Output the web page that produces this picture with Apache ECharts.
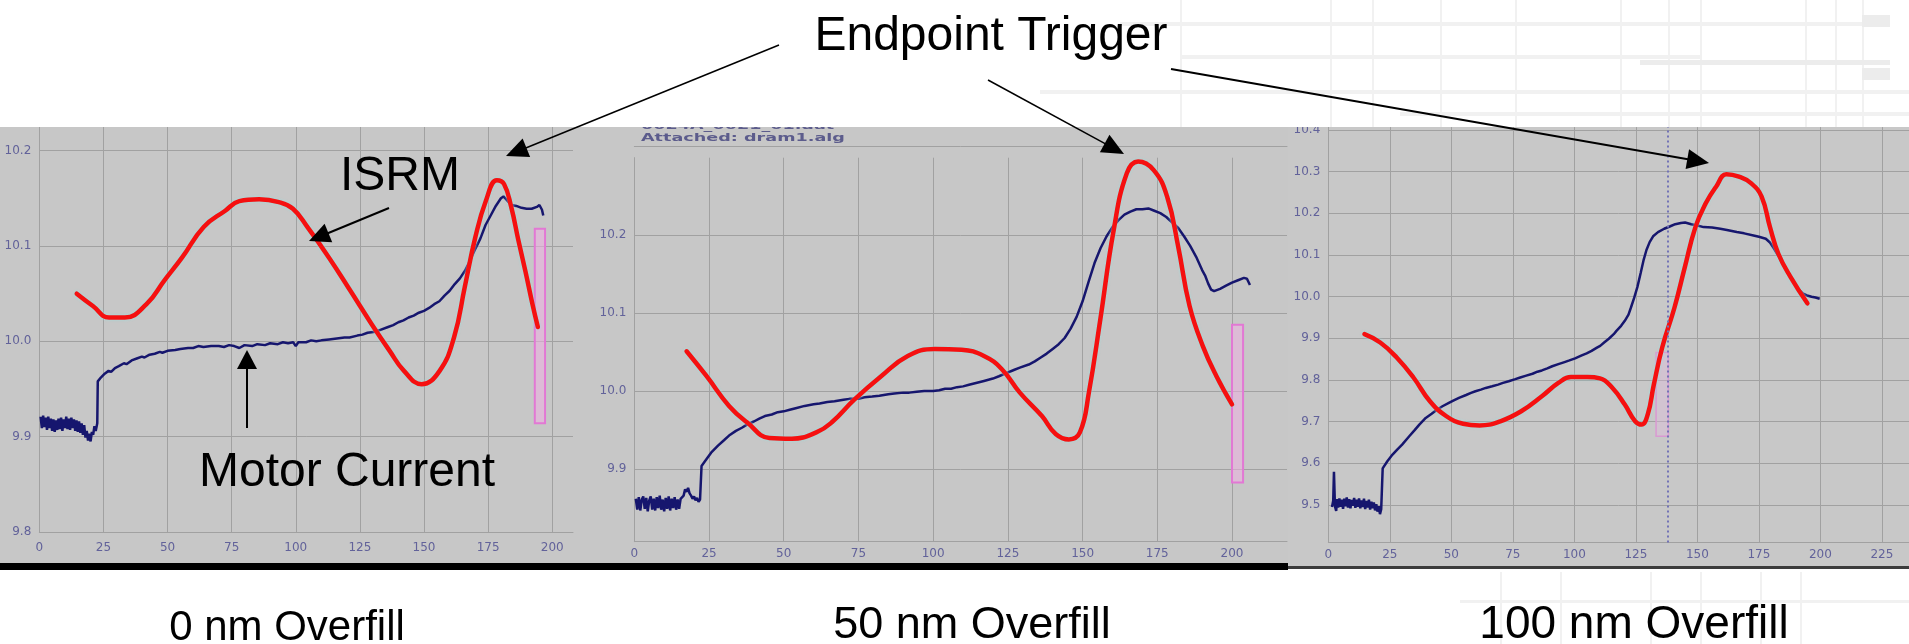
<!DOCTYPE html>
<html><head><meta charset="utf-8">
<script src="https://cdn.jsdelivr.net/npm/echarts@6/dist/echarts.min.js"></script>
<style>html,body{margin:0;padding:0;background:#fff}#c{width:1909px;height:644px}</style>
</head><body><div id="c"></div>
<script>
// ---------- DATA ----------
const panelTitles = ['0 nm Overfill', '50 nm Overfill', '100 nm Overfill'];
const headerLines = ['0024A_0021_01.dat', 'Attached: dram1.alg'];
const annotationTexts = ['Endpoint Trigger', 'ISRM', 'Motor Current'];

// axis ranges [min, max]
const p1XRange = [0, 208.1], p1YRange = [9.8, 10.225];
const p2XRange = [0, 218.4], p2YRange = [9.807, 10.299];
const p3XRange = [0, 236.0], p3YRange = [9.41, 10.407];

// Panel 1 (0 nm)
const p1Motor = [[0.5,9.921],[1,9.909],[1.5,9.922],[2,9.910],[2.5,9.920],[3,9.907],[3.5,9.921],[4,9.909],[4.5,9.919],[5,9.906],[5.5,9.918],[6,9.905],[6.5,9.917],[7,9.907],[7.5,9.919],[8,9.908],[8.5,9.920],[9,9.906],[9.5,9.918],[10,9.909],[10.5,9.921],[11,9.908],[11.5,9.919],[12,9.907],[12.5,9.920],[13,9.909],[13.5,9.918],[14,9.906],[14.5,9.917],[15,9.905],[15.5,9.916],[16,9.904],[16.5,9.914],[17,9.902],[17.5,9.912],[18,9.899],[18.5,9.906],[19,9.896],[19.5,9.903],[20,9.895],[20.5,9.905],[21,9.902],[21.5,9.911],[22,9.906],[22.6,9.914],[22.8,9.958],[24,9.962],[25.5,9.966],[27,9.969],[28,9.968],[29.5,9.972],[31,9.974],[33,9.977],[34,9.976],[36,9.980],[38,9.982],[40,9.984],[41,9.983],[43,9.986],[45,9.987],[47,9.989],[48,9.988],[50,9.990],[53,9.991],[55,9.992],[58,9.993],[60,9.993],[62,9.995],[64,9.994],[67,9.995],[70,9.995],[72,9.994],[74,9.996],[76,9.995],[78,9.993],[80,9.996],[83,9.995],[85,9.997],[88,9.996],[90,9.998],[93,9.997],[95,9.999],[97,9.998],[99,9.999],[100,9.995],[101,9.999],[104,9.999],[106,10.001],[108,10.0],[110,10.001],[113,10.002],[116,10.003],[119,10.004],[121,10.004],[124,10.006],[126,10.007],[128,10.009],[131,10.010],[133,10.012],[136,10.015],[138,10.017],[140,10.020],[142,10.022],[144,10.025],[146,10.027],[148,10.030],[150,10.032],[152,10.035],[154,10.039],[156,10.042],[158,10.048],[160,10.053],[162,10.060],[164,10.066],[166,10.074],[168,10.085],[170,10.097],[172,10.108],[174,10.122],[176,10.132],[178,10.142],[180,10.150],[181,10.152],[182,10.149],[183,10.146],[184,10.143],[186,10.142],[188,10.140],[190,10.139],[192,10.139],[194,10.141],[195,10.143],[196,10.138],[196.5,10.132]];
const p1Isrm = [[14.6,10.050],[20.9,10.037],[27.2,10.025],[33.4,10.025],[41.8,10.039],[48.8,10.064],[55.7,10.088],[64.1,10.120],[72.5,10.137],[78,10.147],[85.7,10.149],[93.4,10.146],[98.9,10.139],[104.5,10.120],[112.9,10.088],[121.3,10.053],[129.6,10.018],[136.6,9.990],[142.2,9.969],[149.1,9.955],[156.1,9.969],[161.7,10.004],[165.9,10.057],[170,10.109],[174.2,10.148],[178.4,10.169],[181.2,10.165],[184,10.141],[186.8,10.106],[189.5,10.074],[192.3,10.039],[194.4,10.015]];
const p1Window = [[193.2, 10.118], [197.2, 9.914]];

// Panel 2 (50 nm)
const p2Motor = [[0.5,9.862],[1,9.848],[1.5,9.864],[2,9.847],[2.5,9.861],[3,9.865],[3.5,9.849],[4,9.863],[4.5,9.846],[5,9.860],[5.5,9.865],[6,9.848],[6.5,9.862],[7,9.847],[7.5,9.864],[8,9.850],[8.5,9.866],[9,9.848],[9.5,9.861],[10,9.846],[10.5,9.863],[11,9.849],[11.5,9.865],[12,9.847],[12.5,9.862],[13,9.850],[13.5,9.864],[14,9.848],[14.5,9.861],[15,9.849],[15.5,9.862],[16,9.860],[16.5,9.866],[17,9.874],[17.5,9.871],[18,9.876],[18.5,9.869],[19,9.866],[19.5,9.862],[20,9.865],[20.5,9.860],[21,9.863],[21.5,9.858],[22,9.861],[22.4,9.862],[22.5,9.904],[24,9.912],[25.7,9.921],[28,9.930],[30,9.937],[31.7,9.943],[34,9.949],[36,9.953],[37.7,9.957],[40,9.961],[42,9.965],[43.7,9.968],[46,9.970],[48,9.973],[50,9.974],[52,9.976],[54,9.978],[57,9.981],[60,9.983],[62,9.984],[64.6,9.986],[67,9.987],[70,9.989],[72,9.990],[75,9.990],[77,9.992],[79.6,9.993],[82,9.994],[85,9.996],[87,9.997],[90,9.998],[92,9.998],[94.5,9.999],[97,10.000],[100,10.000],[102,10.001],[104,10.003],[106,10.003],[108,10.005],[110,10.006],[112,10.008],[114,10.010],[117,10.013],[120,10.016],[122,10.019],[124.5,10.023],[127,10.027],[129,10.030],[132,10.034],[134,10.038],[136,10.043],[138,10.048],[140,10.054],[142,10.060],[144,10.068],[146,10.080],[148,10.095],[150,10.115],[152,10.140],[154,10.164],[156,10.183],[158,10.198],[160,10.210],[162,10.219],[164,10.226],[166,10.230],[168,10.233],[170,10.233],[172,10.234],[174,10.231],[176,10.228],[178,10.223],[180,10.216],[182,10.209],[184,10.198],[186,10.186],[188,10.172],[190,10.155],[191,10.148],[192,10.138],[193,10.130],[194,10.128],[196,10.131],[198,10.135],[200,10.139],[202,10.142],[204,10.145],[205,10.144],[206,10.136]];
const p2Isrm = [[17.5,10.051],[24.2,10.019],[31.7,9.981],[37.7,9.960],[45.2,9.940],[52.7,9.939],[60.9,9.947],[66.1,9.960],[73.6,9.989],[82.6,10.019],[91.5,10.045],[100.5,10.054],[109.5,10.053],[117,10.045],[123,10.028],[129,9.998],[136.4,9.968],[141,9.945],[145.4,9.938],[149.1,9.947],[152.1,9.998],[155.9,10.091],[160.4,10.206],[164.8,10.279],[168.6,10.294],[173.8,10.283],[178.3,10.249],[182,10.185],[185.8,10.109],[190.3,10.057],[194.8,10.019],[200,9.983]];
const p2Window = [[200.0, 10.085], [203.7, 9.883]];

// Panel 3 (100 nm)
const p3Motor = [[1.5,9.495],[2,9.510],[2.3,9.580],[2.7,9.497],[3.2,9.486],[3.6,9.514],[4,9.494],[4.5,9.516],[5,9.496],[5.5,9.513],[6,9.491],[6.5,9.515],[7,9.497],[7.5,9.518],[8,9.494],[8.5,9.514],[9,9.492],[9.5,9.512],[10,9.498],[10.5,9.517],[11,9.493],[11.5,9.513],[12,9.496],[12.5,9.516],[13,9.492],[13.5,9.511],[14,9.495],[14.5,9.515],[15,9.490],[15.5,9.510],[16,9.494],[16.5,9.513],[17,9.489],[17.5,9.508],[18,9.492],[18.5,9.506],[19,9.487],[19.5,9.502],[20,9.484],[20.5,9.497],[21,9.478],[21.5,9.490],[22,9.492],[22.1,9.588],[24,9.605],[26.1,9.621],[28,9.633],[30,9.645],[32.9,9.665],[35,9.679],[37,9.693],[39.6,9.709],[42,9.719],[44,9.728],[46.4,9.737],[49,9.745],[51,9.751],[53.1,9.757],[56,9.764],[58,9.769],[59.8,9.773],[62,9.777],[64,9.781],[66.6,9.785],[69,9.789],[71,9.793],[73.3,9.797],[76,9.802],[78,9.806],[80.1,9.810],[83,9.815],[85,9.820],[86.8,9.823],[89,9.828],[91,9.833],[93.5,9.838],[96,9.843],[98,9.847],[100.3,9.852],[103,9.859],[105,9.864],[107,9.870],[109,9.877],[110.5,9.882],[112.1,9.890],[114,9.899],[116,9.910],[117.1,9.918],[119,9.930],[120.5,9.942],[122,9.957],[123,9.974],[124.3,9.997],[125.6,10.023],[127,10.058],[128.1,10.087],[129.3,10.112],[130.6,10.131],[132,10.145],[134,10.155],[136.5,10.163],[139,10.169],[141,10.174],[143.3,10.177],[145,10.178],[147.5,10.174],[150,10.171],[152.5,10.167],[156,10.166],[159.3,10.163],[162,10.160],[166,10.155],[169,10.152],[172.8,10.147],[175,10.144],[177.8,10.139],[179.5,10.130],[181.2,10.115],[183,10.097],[184.6,10.079],[187,10.055],[189.6,10.031],[191,10.019],[193,10.007],[194.5,10.003],[196.4,10.000],[198,9.998],[199.7,9.995]];
const p3Isrm = [[14.7,9.910],[21.1,9.890],[27.8,9.854],[34.6,9.806],[41.3,9.749],[48,9.713],[54.8,9.695],[61.5,9.691],[69.9,9.701],[78.4,9.725],[86.8,9.761],[93.5,9.793],[98.6,9.807],[105.3,9.807],[110.4,9.804],[115.5,9.781],[120.5,9.741],[124.7,9.701],[127.3,9.693],[129.8,9.717],[132.3,9.789],[135.7,9.878],[140.7,9.974],[144.9,10.071],[149.2,10.167],[153.4,10.224],[157.6,10.264],[161.8,10.294],[166.9,10.288],[171.9,10.272],[176.1,10.240],[179.5,10.167],[182.9,10.103],[187.9,10.047],[194.7,9.984]];
const p3Window = [[133.2, 9.866], [138.2, 9.665]];
const p3Cursor = 137.8;

// ---------- CHART ----------
const chart = echarts.init(document.getElementById('c'), null, {renderer: 'canvas'});
const GRID_LINE = '#a1a1a1';
const LABEL_COLOR = '#62629a';
const BLUE = '#16166e';
const RED = '#f51010';

function yFmt(v) { return Math.abs(v * 10 - Math.round(v * 10)) < 1e-6 ? v.toFixed(1) : ''; }
function xFmt(v) { return Math.abs(v / 25 - Math.round(v / 25)) < 1e-6 ? String(Math.round(v)) : ''; }

function xAxisCfg(idx, range, margin) {
  return {
    type: 'value', gridIndex: idx, min: range[0], max: range[1], interval: 25,
    axisLine: {show: true, lineStyle: {color: GRID_LINE, width: 1}},
    axisTick: {show: false},
    splitLine: {show: true, showMaxLine: false, lineStyle: {color: GRID_LINE, width: 1}},
    axisLabel: {formatter: xFmt, color: LABEL_COLOR, fontSize: 12, fontFamily: 'DejaVu Sans', margin: margin,
      showMaxLabel: false}
  };
}
function yAxisCfg(idx, range, split, showMax) {
  return {
    type: 'value', gridIndex: idx, min: range[0], max: range[1], splitNumber: split,
    axisLine: {show: true, lineStyle: {color: GRID_LINE, width: 1}},
    axisTick: {show: false},
    splitLine: {show: true, showMaxLine: showMax, lineStyle: {color: GRID_LINE, width: 1}},
    axisLabel: {formatter: yFmt, color: LABEL_COLOR, fontSize: 12, fontFamily: 'DejaVu Sans', margin: 8,
      showMaxLabel: true, showMinLabel: true}
  };
}

function motorSeries(idx, data, win, extra) {
  const s = {
    type: 'line', xAxisIndex: idx, yAxisIndex: idx, data: data, showSymbol: false, symbol: 'none',
    lineStyle: {color: BLUE, width: 2.5}, itemStyle: {color: BLUE}, z: 3, animation: false, silent: true,
    markArea: {silent: true, itemStyle: win.style, data: [[{coord: win.pts[0]}, {coord: win.pts[1]}]]}
  };
  return Object.assign(s, extra || {});
}
function isrmSeries(idx, data) {
  return {
    type: 'line', xAxisIndex: idx, yAxisIndex: idx, data: data, showSymbol: false, symbol: 'none',
    smooth: 0.45, lineStyle: {color: RED, width: 4.5, cap: 'round', join: 'round',
      shadowColor: 'rgba(150,225,225,0.9)', shadowBlur: 3},
    itemStyle: {color: RED}, z: 4, animation: false, silent: true
  };
}

const winStyleStrong = {color: 'rgba(238,176,226,0.55)', borderColor: '#e278d4', borderWidth: 2};
const winStyleFaint = {color: 'rgba(230,185,225,0.35)', borderColor: '#d99ad2', borderWidth: 1.5};

function arrow(x1, y1, x2, y2, lw, hl, hw) {
  const dx = x2 - x1, dy = y2 - y1, L = Math.hypot(dx, dy), ux = dx / L, uy = dy / L;
  const bx = x2 - ux * hl, by = y2 - uy * hl, px = -uy, py = ux;
  return [
    {type: 'line', silent: true, z: 100, shape: {x1: x1, y1: y1, x2: bx + ux * 2, y2: by + uy * 2}, style: {stroke: '#000', lineWidth: lw}},
    {type: 'polygon', silent: true, z: 100, shape: {points: [[x2, y2], [bx + px * hw / 2, by + py * hw / 2], [bx - px * hw / 2, by - py * hw / 2]]}, style: {fill: '#000'}}
  ];
}
function txt(x, y, s, size) {
  return {type: 'text', silent: true, z: 100, x: x, y: y,
    style: {text: s, fontSize: size, fontFamily: '"Liberation Sans", Arial, sans-serif', fill: '#000', align: 'center', verticalAlign: 'middle'}};
}

const graphics = [];
// faint decorative background pattern (top right / bottom right)
const faint = '#f1f1f1';
[1180, 1330, 1372, 1440, 1515, 1620, 1668, 1700, 1805, 1835, 1862].forEach(function (x) {
  graphics.push({type: 'rect', silent: true, z: 2, shape: {x: x, y: 0, width: 2, height: 127}, style: {fill: faint}});
});
[[1120, 22, 760], [1180, 55, 520], [1040, 90, 870], [1400, 112, 509]].forEach(function (h) {
  graphics.push({type: 'rect', silent: true, z: 2, shape: {x: h[0], y: h[1], width: h[2], height: 4}, style: {fill: faint}});
});
[[1862, 15, 28, 12], [1862, 68, 28, 12], [1640, 60, 250, 5]].forEach(function (r) {
  graphics.push({type: 'rect', silent: true, z: 2, shape: {x: r[0], y: r[1], width: r[2], height: r[3]}, style: {fill: '#ececec'}});
});
[1500, 1560, 1650, 1700, 1760, 1800].forEach(function (x) {
  graphics.push({type: 'rect', silent: true, z: 2, shape: {x: x, y: 572, width: 2, height: 72}, style: {fill: faint}});
});
graphics.push({type: 'rect', silent: true, z: 2, shape: {x: 1460, y: 600, width: 449, height: 3}, style: {fill: faint}});

// panel backgrounds
graphics.push({type: 'rect', silent: true, z: -10, shape: {x: 0, y: 127, width: 1288, height: 436}, style: {fill: '#c7c7c7'}});
graphics.push({type: 'rect', silent: true, z: -10, shape: {x: 1288, y: 127, width: 621, height: 440}, style: {fill: '#c8c8c8'}});
// header text on panel 2 (first line cut off at the top)
graphics.push({type: 'text', silent: true, z: -7, x: 641, y: 121, scaleX: 1.6, style: {text: headerLines[0], fontSize: 11, fontFamily: 'DejaVu Sans', fontWeight: 'bold', fill: '#5c5c8c'}});
graphics.push({type: 'text', silent: true, z: -7, x: 641, y: 133, scaleX: 1.6, style: {text: headerLines[1], fontSize: 11, fontFamily: 'DejaVu Sans', fontWeight: 'bold', fill: '#5c5c8c'}});
// white cover over the top (hides whatever sticks out above the panels)
graphics.push({type: 'rect', silent: true, z: 1, shape: {x: 0, y: 100, width: 1909, height: 27}, style: {fill: '#ffffff'}});
// black bar under panels 1-2, dark edge under panel 3
graphics.push({type: 'rect', silent: true, z: 50, shape: {x: 0, y: 563, width: 1288, height: 7}, style: {fill: '#000'}});
graphics.push({type: 'rect', silent: true, z: 50, shape: {x: 1288, y: 566, width: 621, height: 3}, style: {fill: '#3c3c3c'}});

// annotations
graphics.push(txt(991, 37, annotationTexts[0], 48));
graphics.push(txt(400, 177, annotationTexts[1], 48));
graphics.push(txt(347, 473, annotationTexts[2], 48));
Array.prototype.push.apply(graphics, arrow(779, 45, 506, 156, 1.5, 22, 20));
Array.prototype.push.apply(graphics, arrow(988, 80, 1124, 154, 1.5, 22, 20));
Array.prototype.push.apply(graphics, arrow(1171, 69, 1709, 163, 2, 22, 20));
Array.prototype.push.apply(graphics, arrow(389, 208, 309, 241, 2, 21, 20));
Array.prototype.push.apply(graphics, arrow(247, 428, 247, 350, 2, 19, 20));
// panel captions
graphics.push(txt(287, 628, panelTitles[0], 42));
graphics.push(txt(972, 626, panelTitles[1], 45));
graphics.push(txt(1634, 625, panelTitles[2], 46));

const xAxes = [xAxisCfg(0, p1XRange, 10), xAxisCfg(1, p2XRange, 6), xAxisCfg(2, p3XRange, 6)];
// top border line of panel 2 (sits a little above its highest value)
xAxes.push({type: 'value', gridIndex: 1, position: 'top', offset: 11.7, min: p2XRange[0], max: p2XRange[1],
  axisLine: {show: true, onZero: false, lineStyle: {color: GRID_LINE, width: 1}}, axisTick: {show: false},
  axisLabel: {show: false}, splitLine: {show: false}});

const option = {
  backgroundColor: '#ffffff',
  animation: false,
  grid: [
    {left: 39.3, top: 126.8, width: 533.7, height: 405.2, containLabel: false},
    {left: 634.3, top: 157.7, width: 652.7, height: 384, containLabel: false},
    {left: 1328.3, top: 127.1, width: 580.7, height: 415.4, containLabel: false}
  ],
  xAxis: xAxes,
  yAxis: [yAxisCfg(0, p1YRange, 4, false), yAxisCfg(1, p2YRange, 5, false), yAxisCfg(2, p3YRange, 10, false)],
  series: [
    motorSeries(0, p1Motor, {pts: p1Window, style: winStyleStrong}),
    isrmSeries(0, p1Isrm),
    motorSeries(1, p2Motor, {pts: p2Window, style: winStyleStrong}),
    isrmSeries(1, p2Isrm),
    motorSeries(2, p3Motor, {pts: p3Window, style: winStyleFaint}, {
      markLine: {silent: true, symbol: 'none', label: {show: false},
        lineStyle: {color: '#7272b6', type: [2, 3], width: 2}, data: [{xAxis: p3Cursor}]}
    }),
    isrmSeries(2, p3Isrm)
  ],
  graphic: {elements: graphics}
};
chart.setOption(option);
</script>
</body></html>
